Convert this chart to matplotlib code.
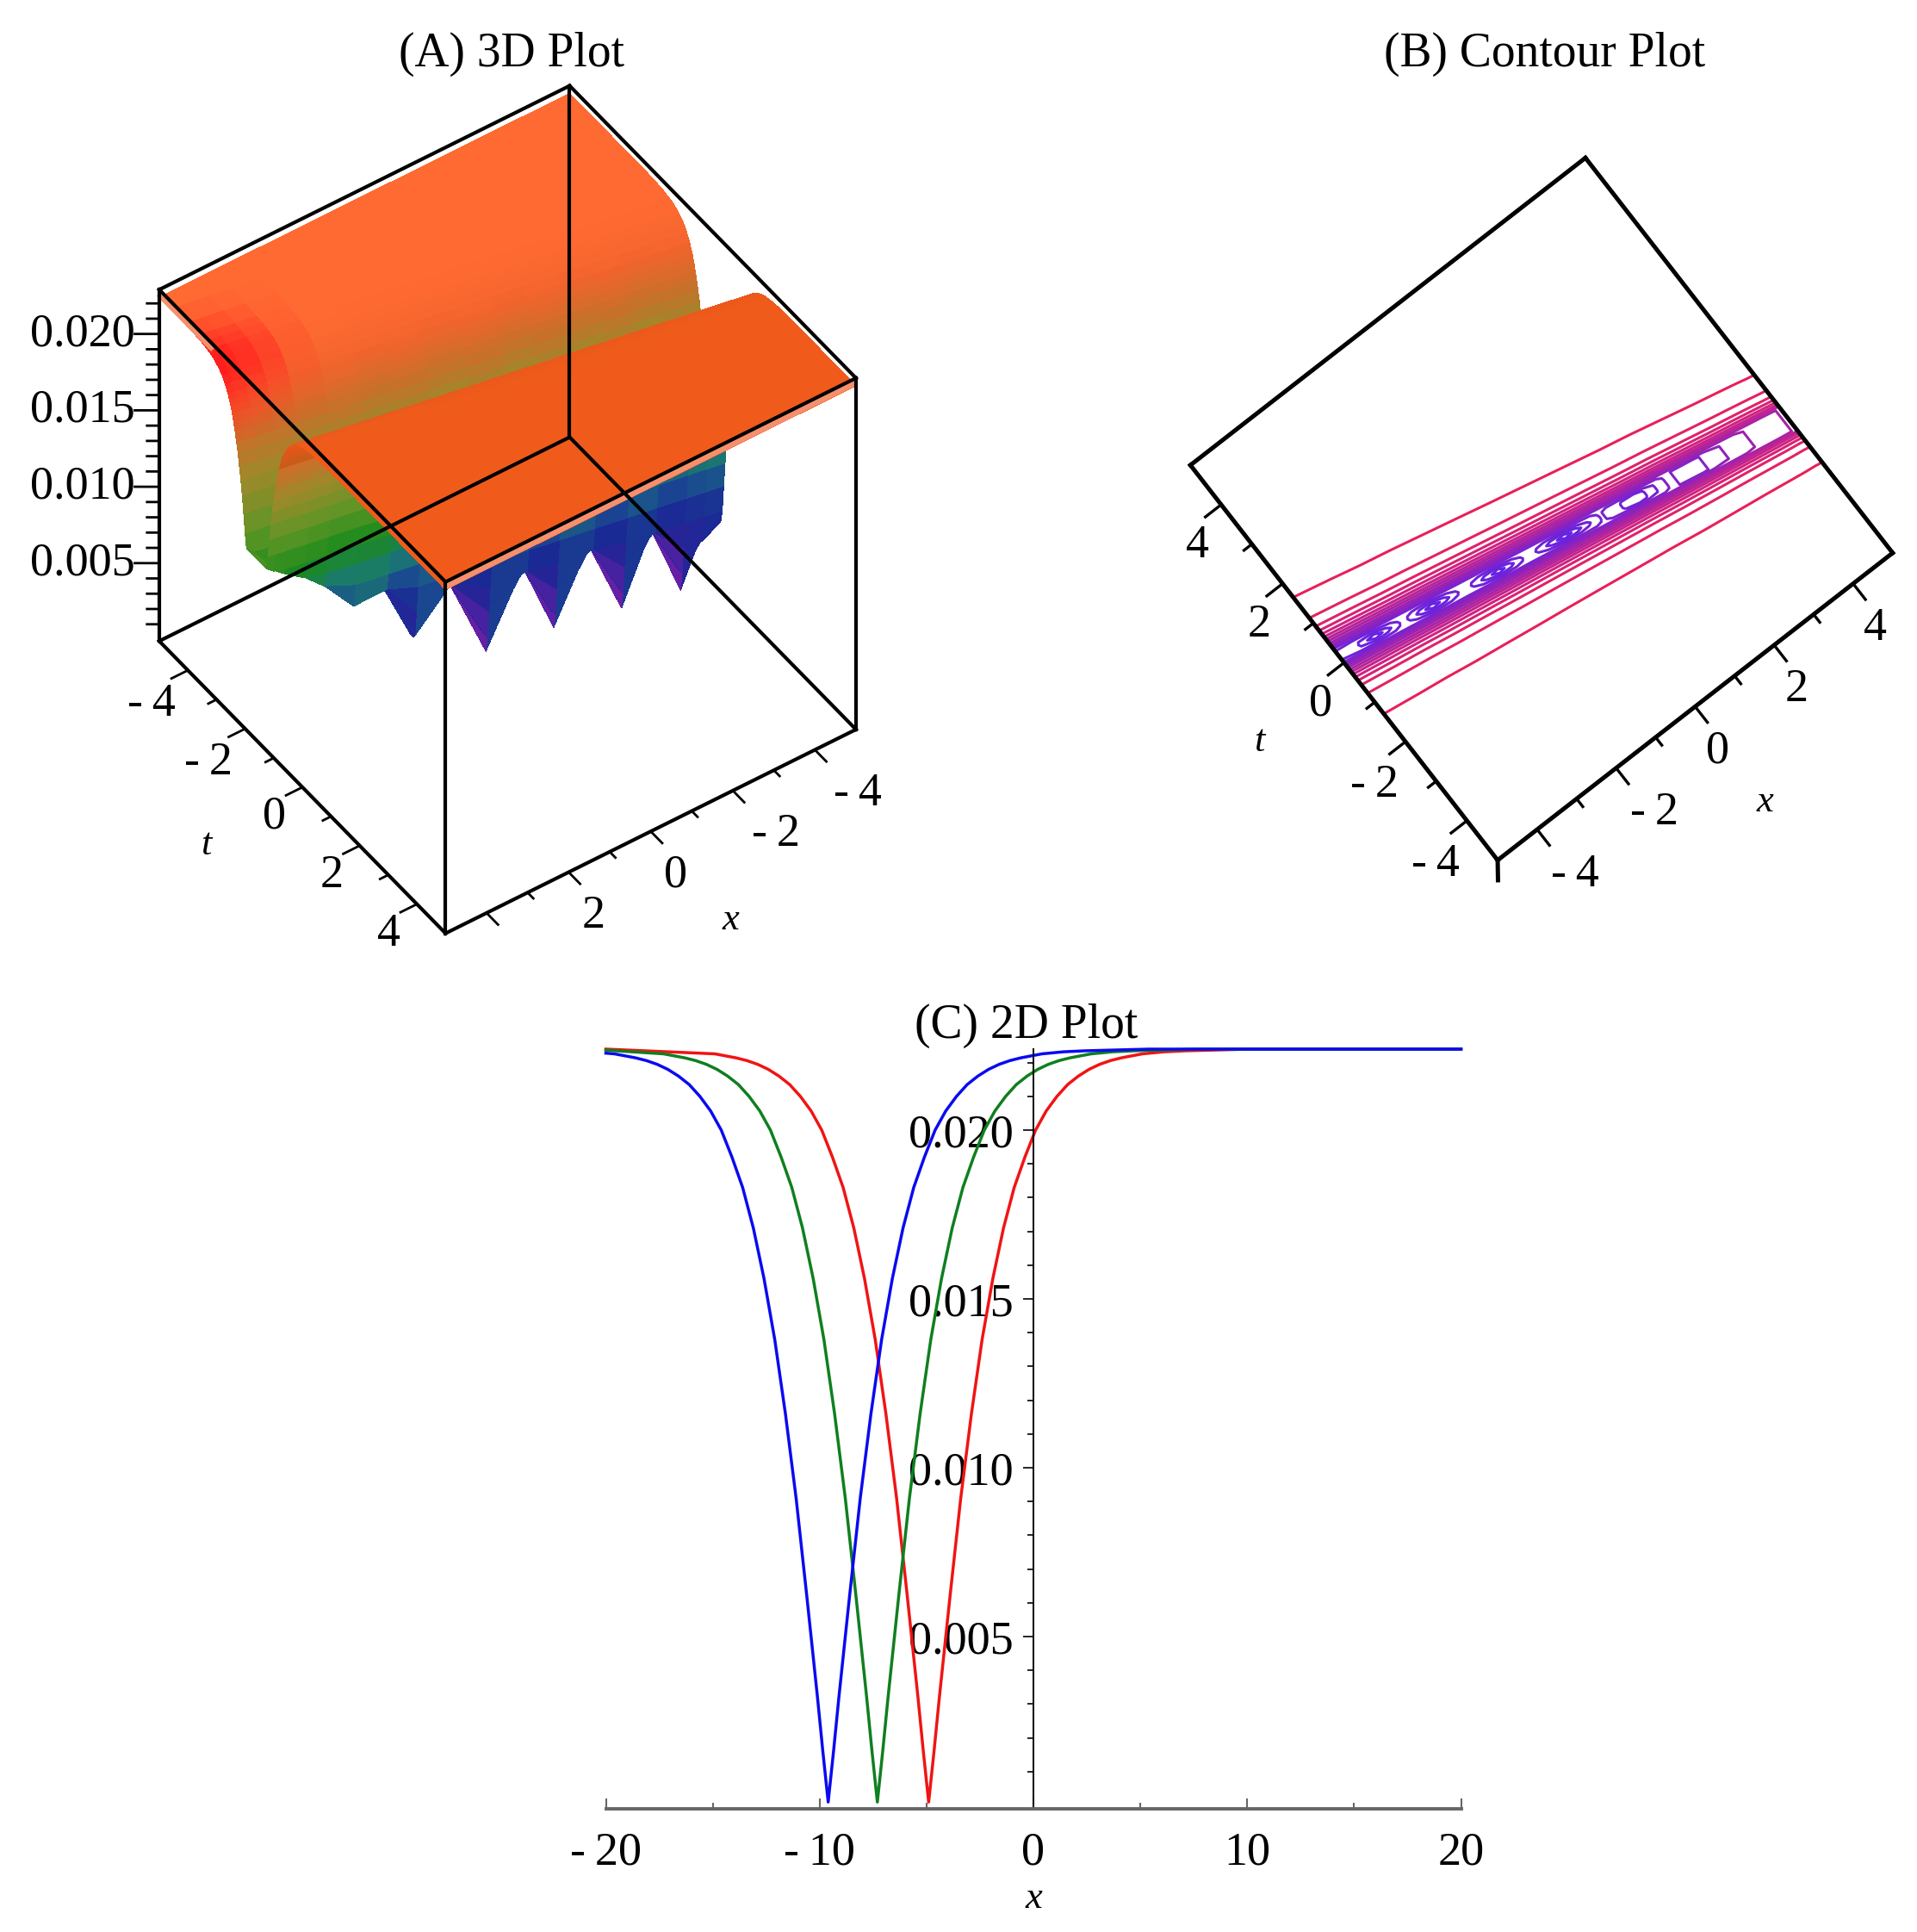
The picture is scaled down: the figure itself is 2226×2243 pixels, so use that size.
import matplotlib
matplotlib.use('Agg')
import matplotlib.pyplot as plt
import numpy as np
from matplotlib.colors import LinearSegmentedColormap, Normalize
from mpl_toolkits.mplot3d import proj3d

plt.rcParams['font.family'] = ['Liberation Serif', 'DejaVu Serif']

# 2D plot, curves
x_red = [-20, -14.9, -13.9, -13.4, -12.9, -12.4, -11.9, -11.4, -10.9, -10.4, -9.9, -9.4, -8.9, -8.4, -7.9, -7.4, -6.9, -6.4, -5.9, -5.65, -5.4, -5.15, -4.9,
         -4.65, -4.4, -4.15, -3.9, -3.4, -2.9, -2.4, -1.9, -1.4, -0.9, -0.4, 0.1, 0.6, 1.1, 1.6, 2.1, 2.6, 3.1, 3.6, 4.1, 5.1, 6.1, 7.1, 10.1, 20]
x_green = [-20, -17.3, -16.3, -15.8, -15.3, -14.8, -14.3, -13.8, -13.3, -12.8, -12.3, -11.8, -11.3, -10.8, -10.3, -9.8, -9.3, -8.8, -8.3, -8.05, -7.8, -7.55, -7.3,
           -7.05, -6.8, -6.55, -6.3, -5.8, -5.3, -4.8, -4.3, -3.8, -3.3, -2.8, -2.3, -1.8, -1.3, -0.8, -0.3, 0.2, 0.7, 1.2, 1.7, 2.7, 3.7, 4.7, 7.7, 20]
x_blue = [-20, -19.6, -18.6, -18.1, -17.6, -17.1, -16.6, -16.1, -15.6, -15.1, -14.6, -14.1, -13.6, -13.1, -12.6, -12.1, -11.6, -11.1, -10.6, -10.35, -10.1, -9.85, -9.6,
          -9.35, -9.1, -8.85, -8.6, -8.1, -7.6, -7.1, -6.6, -6.1, -5.6, -5.1, -4.6, -4.1, -3.6, -3.1, -2.6, -2.1, -1.6, -1.1, -0.6, 0.4, 1.4, 2.4, 5.4, 20]
u_red = [0.0224, 0.02226, 0.02214, 0.02206, 0.02195, 0.0218, 0.0216, 0.02135, 0.0210, 0.02057, 0.0200, 0.0192, 0.0183, 0.0171, 0.0156, 0.0138, 0.0116, 0.0091, 0.0062, 0.0047, 0.0032, 0.0016, 0.0001,
         0.0016, 0.0032, 0.0047, 0.0062, 0.0091, 0.0116, 0.0138, 0.0156, 0.0171, 0.0183, 0.0192, 0.0200, 0.02057, 0.0210, 0.02135, 0.0216, 0.0218, 0.02195, 0.02206, 0.02214, 0.02226, 0.02232, 0.02235, 0.0224, 0.0224]
u_green = [0.02237, 0.02226, 0.02214, 0.02206, 0.02195, 0.0218, 0.0216, 0.02135, 0.0210, 0.02057, 0.0200, 0.0192, 0.0183, 0.0171, 0.0156, 0.0138, 0.0116, 0.0091, 0.0062, 0.0047, 0.0032, 0.0016, 0.0001,
           0.0016, 0.0032, 0.0047, 0.0062, 0.0091, 0.0116, 0.0138, 0.0156, 0.0171, 0.0183, 0.0192, 0.0200, 0.02057, 0.0210, 0.02135, 0.0216, 0.0218, 0.02195, 0.02206, 0.02214, 0.02226, 0.02232, 0.02235, 0.0224, 0.0224]
u_blue = [0.02228, 0.02226, 0.02214, 0.02206, 0.02195, 0.0218, 0.0216, 0.02135, 0.0210, 0.02057, 0.0200, 0.0192, 0.0183, 0.0171, 0.0156, 0.0138, 0.0116, 0.0091, 0.0062, 0.0047, 0.0032, 0.0016, 0.0001,
          0.0016, 0.0032, 0.0047, 0.0062, 0.0091, 0.0116, 0.0138, 0.0156, 0.0171, 0.0183, 0.0192, 0.0200, 0.02057, 0.0210, 0.02135, 0.0216, 0.0218, 0.02195, 0.02206, 0.02214, 0.02226, 0.02232, 0.02235, 0.0224, 0.0224]

# surface: trough line in the x-t plane with the depth reached at each column
trough_x = np.array([-5, -4.6, -4.19, -3.55, -2.91, -2.2, -1.44, -0.77, 0.03, 0.85, 1.63, 2.3, 3.02, 3.7, 4.17, 4.6, 4.85, 5])
trough_t = np.array([0.18, 0.109, 0.036, -0.078, -0.192, -0.318, -0.454, -0.573, -0.715, -0.861, -1.0, -1.119, -1.248, -1.369, -1.452, -1.529, -1.573, -1.6])
trough_floor = np.array([0.0045, 0.0035, 0.0006, 0.0052, 0.0007, 0.0055, 0.0009, 0.0055, 0.0008, 0.0062, 0.0034, 0.0075, 0.0071, 0.0092, 0.0103, 0.0110, 0.0115, 0.0118])
hot_red = np.array([0, 0, 0, 0, 0, 0, 0, 0, 0, 0, 0, 0, 0.15, 0.5, 0.75, 0.9, 1, 1])
contour_width = np.array([1, 0.99, 0.98, 0.96, 0.95, 0.93, 0.91, 0.89, 0.87, 0.85, 0.83, 0.82, 0.80, 0.78, 0.77, 0.76, 0.75, 0.75])

# wall profile across the trough, distance in t from the trough line
wall_d = np.array([0, 0.05, 0.1, 0.15, 0.2, 0.25, 0.3, 0.35, 0.4, 0.45, 0.5, 0.55, 0.6, 0.65, 0.7, 0.75, 0.8, 0.85, 0.9, 0.95, 1.0,
                   1.1, 1.2, 1.3, 1.4, 1.55, 1.7, 1.9, 2.1, 2.5, 3.0, 3.5, 4.0, 4.5, 5.0, 5.5, 6.0, 6.5, 7.0])
wall_u = np.array([0.0001, 0.0018, 0.0036, 0.0053, 0.0070, 0.0086, 0.0101, 0.0114, 0.0127, 0.0139, 0.0150, 0.0159, 0.0167, 0.0175, 0.0181, 0.0187, 0.0192, 0.0197, 0.0201, 0.0204, 0.0207,
                   0.02115, 0.0215, 0.02173, 0.0219, 0.0221, 0.0222, 0.0223, 0.02235, 0.0224, 0.0224, 0.0224, 0.0224, 0.0224, 0.0224, 0.0224, 0.0224, 0.0224, 0.0224])
wall_ripple = np.array([1, 0.98, 0.95, 0.92, 0.88, 0.82, 0.75, 0.68, 0.6, 0.52, 0.45, 0.38, 0.32, 0.28, 0.25, 0.22, 0.2, 0.18, 0.16, 0.14, 0.12,
                        0.1, 0.08, 0.06, 0.05, 0.03, 0.02, 0.01, 0, 0, 0, 0, 0, 0, 0, 0, 0, 0, 0])
wall_hot = np.array([0, 0, 0, 0, 0, 0, 0, 0, 0, 0, 0, 0, 0, 0, 0, 0.1, 0.2, 0.3, 0.4, 0.5, 0.6,
                     0.75, 0.9, 1, 1, 1, 0.95, 0.8, 0.65, 0.4, 0.15, 0, 0, 0, 0, 0, 0, 0, 0])

contour_levels = [0.0018, 0.0032, 0.0046, 0.0060, 0.0074, 0.0088, 0.0102, 0.0116, 0.0130, 0.0144, 0.0158, 0.0172, 0.0186, 0.0204, 0.0220]
contour_colors = ['#6622e4', '#6a22e0', '#7022d8', '#7a22d0', '#8422c8', '#9022bc', '#9c22b0', '#a822a4', '#b82298', '#c4228c', '#d02280', '#d82274', '#e0226a', '#e42262', '#e8205a']

height_nodes = [0.0, 0.0012, 0.0030, 0.0055, 0.0075, 0.0095, 0.0120, 0.0145, 0.0170, 0.0190, 0.0208, 0.0224]
height_colors = ['#7a1fa4', '#5a20a6', '#2a2298', '#1a2a94', '#1a4a90', '#1a7a70', '#1b8a1c', '#5f9526', '#9a8a2a', '#c8702a', '#f0642c', '#ff6a32']

t_major = [-4, -2, 0, 2, 4]
t_minor = [-3, -1, 1, 3]
x_major = [-4, -2, 0, 2, 4]
x_minor = [-3, -1, 1, 3]
x_labels_3d = [-4, -2, 0, 2]
z_major = [0.005, 0.010, 0.015, 0.020]
z_minor = [0.001, 0.002, 0.003, 0.004, 0.006, 0.007, 0.008, 0.009, 0.011, 0.012, 0.013, 0.014, 0.016, 0.017, 0.018, 0.019, 0.021, 0.022]

W, H = 2226, 2243
FONT = 39
CUBE_AX = 1300
CUBE_ZOOM = 977 / 1300


def tick_text(v):
    return ('-\u2009%d' % abs(v)) if v < 0 else str(v)


def cube_axes(cx, cy, elev, azim, z0, z1):
    # 3D axes placed so the middle of the cube lands on pixel (cx, cy)
    left = cx - 0.5135 * CUBE_AX
    bottom = (H - cy) - 0.5135 * CUBE_AX
    ax = fig.add_axes([left / W, bottom / H, CUBE_AX / W, CUBE_AX / H],
                      projection='3d', proj_type='ortho', computed_zorder=False)
    ax.set_box_aspect((1, 1, 1), zoom=CUBE_ZOOM)
    ax.view_init(elev=elev, azim=azim)
    ax.set_axis_off()
    ax.set_xticks([])
    ax.set_yticks([])
    ax.set_zticks([])
    ax.set_xlim(-5, 5)
    ax.set_ylim(-5, 5)
    ax.set_zlim(z0, z1)
    return ax


def put(ax, x, y, z, s, fontsize=FONT, style='normal', ha='center'):
    # text at a 3D data position, drawn as plain 2D text
    x2, y2, _ = proj3d.proj_transform(x, y, z, ax.get_proj())
    ax.text2D(x2, y2, s, transform=ax.transData, fontsize=fontsize, style=style, ha=ha, va='center')


def draw_box(ax, z0, z1, lw):
    for a in (-5, 5):
        for z in (z0, z1):
            ax.plot([-5, 5], [a, a], [z, z], color='k', lw=lw, zorder=5)
            ax.plot([a, a], [-5, 5], [z, z], color='k', lw=lw, zorder=5)
        for b in (-5, 5):
            ax.plot([a, a], [b, b], [z0, z1], color='k', lw=lw, zorder=5)


fig = plt.figure(figsize=(W / 100, H / 100), dpi=100, facecolor='white')

# mesh that follows the trough
rows_d = np.r_[-wall_d[::-1], wall_d[1:]]
rows_u = np.r_[wall_u[::-1], wall_u[1:]]
rows_r = np.r_[wall_ripple[::-1], wall_ripple[1:]]
rows_h = np.r_[wall_hot[::-1], np.zeros(len(wall_d) - 1)]
X = np.repeat(trough_x[:, None], len(rows_d), axis=1)
T = np.clip(trough_t[:, None] + rows_d[None, :], -5, 5)
Z = np.maximum(rows_u[None, :], trough_floor[:, None])

cmap = LinearSegmentedColormap.from_list('height', list(zip(np.array(height_nodes) / 0.0224, height_colors)))
rgba = cmap(Normalize(0, 0.0224)(Z + 0.2 * trough_floor[:, None] * rows_r[None, :]))
# near plate is deeper orange, far plate goes red at the left end
rgba[:, rows_d >= 0.8, :3] *= np.array([0.94, 0.86, 0.55])
hot = hot_red[:, None] * rows_h[None, :]
for i, c in enumerate((1.0, 0.12, 0.12)):
    rgba[:, :, i] = rgba[:, :, i] * (1 - hot) + c * hot

# ---- (A) 3D plot
z0, z1 = -0.0001, 0.0229
ax = cube_axes(589.4, 591.6, 45.4, 55.1, z0, z1)
ax.plot_surface(X, T, Z, facecolors=rgba, rstride=1, cstride=1, shade=False, linewidth=0, antialiased=False, zorder=1)
ax.plot([-5, 5], [5, 5], [0.02265, 0.02265], color='#f5906e', lw=6, zorder=2, solid_capstyle='butt')
ax.plot([5, 5], [-5, -3.1], [0.02265, 0.02265], color='#f5906e', lw=6, zorder=2, solid_capstyle='butt')
draw_box(ax, z0, z1, 3)
ax.set_xlim(-5, 5)
ax.set_ylim(-5, 5)
ax.set_zlim(z0, z1)

for v in t_major + t_minor:
    ln = 0.4 if v in t_major else 0.2
    ax.plot([5, 5 + ln], [v, v], [z0, z0], color='k', lw=2, zorder=5)
for v in t_major:
    shift = 1.15 if v < 0 else 0.94
    put(ax, 5 + shift, v + 0.37, z0, tick_text(v))
for v in x_major + x_minor:
    ln = 0.4 if v in x_major else 0.2
    ax.plot([v, v], [5, 5 + ln], [z0, z0], color='k', lw=2, zorder=5)
for v in x_labels_3d:
    if v < 0:
        put(ax, v, 6.5, z0, tick_text(v))
    else:
        put(ax, v + 0.3, 6.3, z0, tick_text(v))
for v in z_major + z_minor:
    ln = 1.0 if v in z_major else 0.5
    ax.plot([5, 5 + 0.4 * ln], [-5, -5 - 0.28 * ln], [v, v], color='k', lw=2, zorder=5)
for v in z_major:
    put(ax, 5.4, -5.27, v, '%.3f' % v, ha='right')
put(ax, 7.5, 0.22, z0, 't', fontsize=32, style='italic')
put(ax, 0.11, 7.94, z0, 'x', fontsize=32, style='italic')

# ---- (B) contour plot, same cube looked at from above
ax = cube_axes(1790, 591, 90, 231.7, 0, 0.0229)
T_b = np.clip(trough_t[:, None] + rows_d[None, :] * contour_width[:, None], -5, 5)
ax.contour(X, T_b, Z, levels=contour_levels, colors=contour_colors, linewidths=2.2, offset=0, zorder=2)
for a in (-5, 5):
    ax.plot([-5, 5], [a, a], [0, 0], color='k', lw=3.6, zorder=5)
    ax.plot([a, a], [-5, 5], [0, 0], color='k', lw=3.6, zorder=5)
ax.plot([-5, -5.24], [-5, -5.32], [0, 0], color='k', lw=3.6, zorder=5)
ax.set_xlim(-5, 5)
ax.set_ylim(-5, 5)
ax.set_zlim(0, 0.0229)

for v in t_major + t_minor:
    ln = 0.4 if v in t_major else 0.2
    ax.plot([-5, -5 - ln], [v, v], [0, 0], color='k', lw=2.4, zorder=5)
for v in t_major:
    if v < 0:
        put(ax, -6.03, v - 0.31, 0, tick_text(v))
    else:
        put(ax, -5.88, v - 0.36, 0, tick_text(v))
for v in x_major + x_minor:
    ln = 0.4 if v in x_major else 0.2
    ax.plot([v, v], [-5, -5 - ln], [0, 0], color='k', lw=2.4, zorder=5)
for v in x_major:
    if v < 0:
        put(ax, v + 0.05, -6.18, 0, tick_text(v))
    else:
        put(ax, v - 0.2, -5.98, 0, tick_text(v))
put(ax, -7.3, -0.21, 0, 't', fontsize=32, style='italic')
put(ax, -0.07, -7.36, 0, 'x', fontsize=32, style='italic')

# ---- (C) 2D plot
ax = fig.add_axes([703.5 / W, 1 - 2100 / H, (1696.5 - 703.5) / W, (2100 - 1218) / H])
ax.plot(x_red, u_red, color='#f01414', lw=2.5, clip_on=False)
ax.plot(x_green, u_green, color='#0f7f1f', lw=2.5, clip_on=False)
ax.plot(x_blue, u_blue, color='#0a0af0', lw=2.5, clip_on=False)
ax.set_xlim(-20, 20)
ax.set_ylim(-0.0001, 0.0224)
for s in ('top', 'right'):
    ax.spines[s].set_visible(False)
ax.patch.set_alpha(0)
ax.spines['left'].set_position(('data', 0))
ax.spines['left'].set_linewidth(1.4)
ax.spines['bottom'].set_color('#666666')
ax.spines['bottom'].set_linewidth(2.8)
ax.set_xticks([-20, -10, 0, 10, 20])
ax.set_xticks([-15, -5, 5, 15], minor=True)
ax.set_xticklabels([tick_text(v) for v in [-20, -10, 0, 10, 20]])
ax.set_yticks(z_major)
ax.set_yticklabels(['%.3f' % v for v in z_major])
ax.set_yticks(z_minor, minor=True)
ax.tick_params(axis='x', which='major', direction='in', length=9, width=1.5, color='#666666', labelsize=FONT, pad=19)
ax.tick_params(axis='x', which='minor', direction='in', length=5, width=1.5, color='#666666')
ax.tick_params(axis='y', which='major', direction='out', length=9, width=1.2, labelsize=FONT, pad=8)
ax.tick_params(axis='y', which='minor', direction='out', length=5, width=1.2)
ax.set_xlabel('x', fontsize=32, style='italic', labelpad=5)

fig.text(594 / W, 1 - 63 / H, '(A) 3D Plot', fontsize=40, ha='center', va='center')
fig.text(1794 / W, 1 - 63 / H, '(B) Contour Plot', fontsize=40, ha='center', va='center')
fig.text(1192 / W, 1 - 1191 / H, '(C) 2D Plot', fontsize=40, ha='center', va='center')

fig.savefig('out.png', dpi=100)
plt.close(fig)
